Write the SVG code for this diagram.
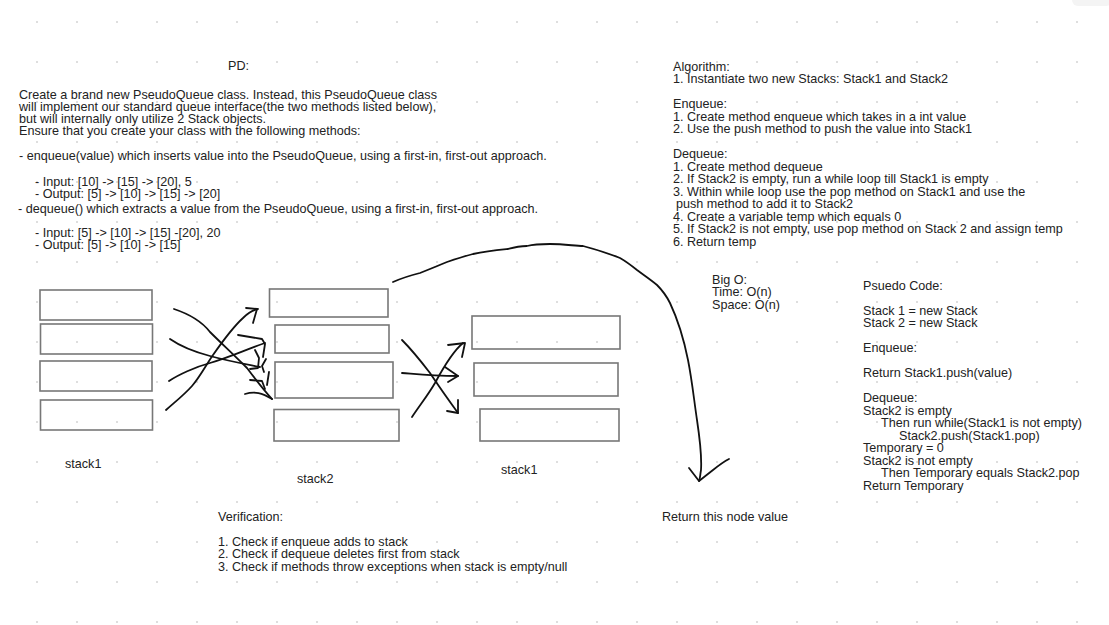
<svg xmlns="http://www.w3.org/2000/svg" width="1109" height="625" viewBox="0 0 1109 625">
  <style>
    .t { font-family: "Liberation Sans", Arial, sans-serif; font-size: 12.6px; fill: #222; }
    .box { fill: none; stroke: #777; stroke-width: 1.6; }
    .ink { fill: none; stroke: #111; stroke-width: 1.8; stroke-linecap: round; stroke-linejoin: round; }
  </style>
  <defs>
    <pattern id="dots" patternUnits="userSpaceOnUse" x="0" y="0" width="40" height="40">
      <circle cx="37" cy="22" r="1.1" fill="#d6d6d6"/>
    </pattern>
  </defs>
  <rect width="1109" height="625" fill="#ffffff"/>
  <rect width="1109" height="625" fill="url(#dots)"/>
  <rect x="1072" y="-8" width="40" height="14" rx="6" fill="#f4f4f4"/>

  <g id="problem-domain">
    <text class="t" x="228" y="70">PD:</text>
    <text class="t" x="19" y="98.5">Create a brand new PseudoQueue class. Instead, this PseudoQueue class<tspan x="19" dy="12.3">will implement our standard queue interface(the two methods listed below),</tspan><tspan x="19" dy="12.3">but will internally only utilize 2 Stack objects.</tspan><tspan x="19" dy="12.3">Ensure that you create your class with the following methods:</tspan><tspan x="19" dy="24.6">- enqueue(value) which inserts value into the PseudoQueue, using a first-in, first-out approach.</tspan></text>
    <text class="t" x="35" y="185.5">- Input: [10] -&gt; [15] -&gt; [20], 5<tspan x="35" dy="12">- Output: [5] -&gt; [10] -&gt; [15] -&gt; [20]</tspan></text>
    <text class="t" x="18" y="212.5">- dequeue() which extracts a value from the PseudoQueue, using a first-in, first-out approach.</text>
    <text class="t" x="35" y="236.5">- Input: [5] -&gt; [10] -&gt; [15] -[20], 20<tspan x="35" dy="12">- Output: [5] -&gt; [10] -&gt; [15]</tspan></text>
  </g>

  <g id="algorithm">
    <text class="t" x="673" y="70.5">Algorithm:<tspan x="673" dy="12.5">1. Instantiate two new Stacks: Stack1 and Stack2</tspan><tspan x="673" dy="25">Enqueue:</tspan><tspan x="673" dy="12.5">1. Create method enqueue which takes in a int value</tspan><tspan x="673" dy="12.5">2. Use the push method to push the value into Stack1</tspan><tspan x="673" dy="25">Dequeue:</tspan><tspan x="673" dy="12.5">1. Create method dequeue</tspan><tspan x="673" dy="12.5">2. If Stack2 is empty, run a while loop till Stack1 is empty</tspan><tspan x="673" dy="12.5">3. Within while loop use the pop method on Stack1 and use the</tspan><tspan x="676" dy="12.5">push method to add it to Stack2</tspan><tspan x="673" dy="12.5">4. Create a variable temp which equals 0</tspan><tspan x="673" dy="12.5">5. If Stack2 is not empty, use pop method on Stack 2 and assign temp</tspan><tspan x="673" dy="12.5">6. Return temp</tspan></text>
  </g>

  <g id="big-o">
    <text class="t" x="712" y="284">Big O:<tspan x="712" dy="12.3">Time: O(n)</tspan><tspan x="712" dy="12.3">Space: O(n)</tspan></text>
  </g>

  <g id="pseudo-code">
    <text class="t" x="863" y="289.5">Psuedo Code:<tspan x="863" dy="25">Stack 1 = new Stack</tspan><tspan x="863" dy="12.5">Stack 2 = new Stack</tspan><tspan x="863" dy="25">Enqueue:</tspan><tspan x="863" dy="25">Return Stack1.push(value)</tspan><tspan x="863" dy="25">Dequeue:</tspan><tspan x="863" dy="12.5">Stack2 is empty</tspan><tspan x="881" dy="12.5">Then run while(Stack1 is not empty)</tspan><tspan x="899" dy="12.5">Stack2.push(Stack1.pop)</tspan><tspan x="863" dy="12.5">Temporary = 0</tspan><tspan x="863" dy="12.5">Stack2 is not empty</tspan><tspan x="881" dy="12.5">Then Temporary equals Stack2.pop</tspan><tspan x="863" dy="12.5">Return Temporary</tspan></text>
  </g>

  <g id="verification">
    <text class="t" x="218" y="521">Verification:<tspan x="218" dy="24.5">1. Check if enqueue adds to stack</tspan><tspan x="218" dy="12.5">2. Check if dequeue deletes first from stack</tspan><tspan x="218" dy="12.5">3. Check if methods throw exceptions when stack is empty/null</tspan></text>
  </g>

  <g id="return-node-label">
    <text class="t" x="662" y="521">Return this node value</text>
  </g>

  <g id="stack1-initial">
    <rect class="box" x="40" y="290" width="112" height="30"/>
    <rect class="box" x="40.5" y="324" width="112" height="30"/>
    <rect class="box" x="40" y="361" width="112" height="30"/>
    <rect class="box" x="40.5" y="400" width="112" height="30"/>
    <text class="t" x="65" y="467.5">stack1</text>
  </g>

  <g id="stack2">
    <rect class="box" x="269.5" y="289" width="118.5" height="28"/>
    <rect class="box" x="275" y="325" width="114" height="28"/>
    <rect class="box" x="275" y="362" width="118" height="36"/>
    <rect class="box" x="274" y="409.5" width="125" height="31.5"/>
    <text class="t" x="297" y="482.5">stack2</text>
  </g>

  <g id="stack1-final">
    <rect class="box" x="472" y="316" width="148" height="33"/>
    <rect class="box" x="474" y="363" width="144" height="33"/>
    <rect class="box" x="480" y="409" width="139" height="32"/>
    <text class="t" x="501" y="473.5">stack1</text>
  </g>

  <g id="connectors">
    <!-- stack1 -> stack2 crossing strokes -->
    <path class="ink" d="M174,309 C186,313 200,319 210,332 C220,342 235,356 247,368 C253,376 262,388 272,399"/>
    <path class="ink" d="M170,339 C180,346 195,352 210,356 C228,361 245,364 260,367"/>
    <path class="ink" d="M169,381 C178,375 195,367 210,363 C228,358 245,350 265,343"/>
    <path class="ink" d="M166,410 C175,402 184,395 192,386 C200,377 206,365 213,355 C220,345 232,328 243,318 C248,313 253,310 258,309"/>
    <path class="ink" d="M246,308 L257,309 L253,323"/>
    <path class="ink" d="M238,335 L262,339 L265,344 L263,357"/>
    <path class="ink" d="M255,350 L259,358 L258,368 L250,369"/>
    <path class="ink" d="M266,359 L262,366 L264,372"/>
    <path class="ink" d="M250,380 L262,381 L265,389"/>
    <path class="ink" d="M245,394 C255,391 262,393 272,399"/>
    <path class="ink" d="M269,372 L267,385"/>
    <!-- stack2 -> stack1 crossing strokes -->
    <path class="ink" d="M402,340 C410,348 420,360 430,373 C440,388 450,402 458,413"/>
    <path class="ink" d="M458,400 L458,413 L447,411"/>
    <path class="ink" d="M412,417 C420,405 428,395 435,383 C442,370 452,352 463,343"/>
    <path class="ink" d="M448,345 L465,343 L462,357"/>
    <path class="ink" d="M402,373 C415,374 430,376 458,376"/>
    <path class="ink" d="M445,367 L458,376 L448,382"/>
    <!-- big arc to return node -->
    <path class="ink" d="M393,282 C402,278 412,275 420,273 C430,269 440,265 447,262 C456,259 465,256 473,254 C487,251 498,250 508,249 C515,247 520,246 527,246 C535,244 542,244 550,244 C565,244 575,246 583,246 C598,250 610,254 620,258 C627,262 632,266 637,270 C645,276 651,280 657,285 C663,291 667,297 670,303 C678,320 684,340 688,360 C692,380 694,400 697,420 C700,440 702,455 701,470 C700,476 700,479 699,481"/>
    <path class="ink" d="M689,468 L699,481 L713,470 C718,466 723,462 729,459"/>
  </g>
</svg>
